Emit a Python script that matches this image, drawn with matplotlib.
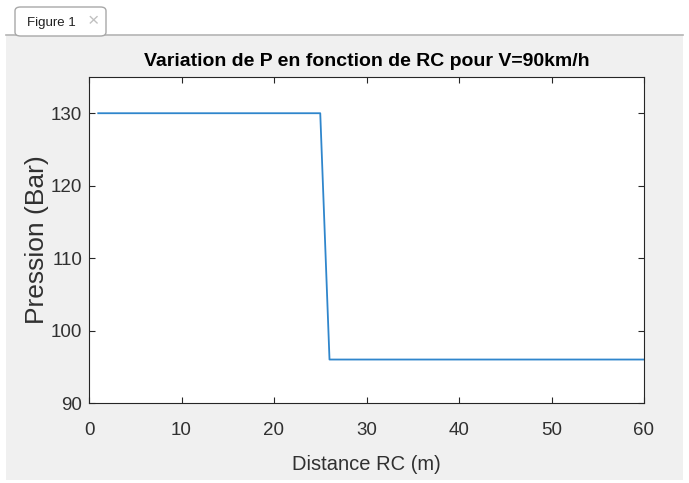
import matplotlib
matplotlib.use('Agg')
import matplotlib.pyplot as plt
from matplotlib.patches import Rectangle, FancyBboxPatch
from matplotlib.lines import Line2D

# données
distance = [1, 25, 26, 60]
pression = [130, 130, 96, 96]
xticks = [0, 10, 20, 30, 40, 50, 60]
yticks = [90, 100, 110, 120, 130]

plt.rcParams['font.family'] = ['Liberation Sans', 'DejaVu Sans']

W, H = 689, 483
fig = plt.figure(figsize=(W / 100, H / 100), dpi=100, facecolor='white')


def fx(px):
    return px / W


def fy(py):
    return 1 - py / H


# fond gris de la fenêtre
fig.patches.append(Rectangle((fx(6), fy(480)), fx(677), (480 - 35) / H,
                             transform=fig.transFigure, facecolor='#f0f0f0',
                             edgecolor='none', zorder=-2))
fig.lines.append(Line2D([fx(6), fx(683)], [fy(35), fy(35)],
                        transform=fig.transFigure, color='#b4b4b4', lw=1.2,
                        zorder=-1))
# onglet "Figure 1"
fig.patches.append(FancyBboxPatch((fx(15), fy(36)), fx(91), 29 / H,
                                  boxstyle='round,pad=0,rounding_size=0.008',
                                  transform=fig.transFigure, facecolor='white',
                                  edgecolor='#a8a8a8', lw=1, zorder=-1))
fig.text(fx(27), fy(23), 'Figure 1', fontsize=9.5,
         va='center', ha='left', color='#202020')
fig.text(fx(93), fy(22), '\u00d7', fontsize=14,
         va='center', ha='center', color='#c0c0c0')

ax = fig.add_axes([fx(89), 80 / H, fx(555), 326 / H])
ax.set_zorder(5)
ax.plot(distance, pression, color='#2f86cc', lw=1.3)

ax.set_xlim(0, 60)
ax.set_ylim(90, 135)
ax.set_xticks(xticks)
ax.set_yticks(yticks)
ax.tick_params(direction='in', length=4, width=0.8, top=True, right=True,
               color='#262626', labelcolor='#303030', labelsize=13.5)
ax.tick_params(axis='x', pad=14)
ax.tick_params(axis='y', pad=5)
for sp in ax.spines.values():
    sp.set_color('#262626')
    sp.set_linewidth(0.8)

ax.set_title('Variation de P en fonction de RC pour V=90km/h',
             fontsize=14, fontweight='bold', pad=8)
ax.set_xlabel('Distance RC (m)', fontsize=14.5, color='#303030', labelpad=11)
ax.set_ylabel('Pression (Bar)', fontsize=19, color='#303030', labelpad=1)

fig.savefig('out.png', dpi=100, facecolor=fig.get_facecolor())
